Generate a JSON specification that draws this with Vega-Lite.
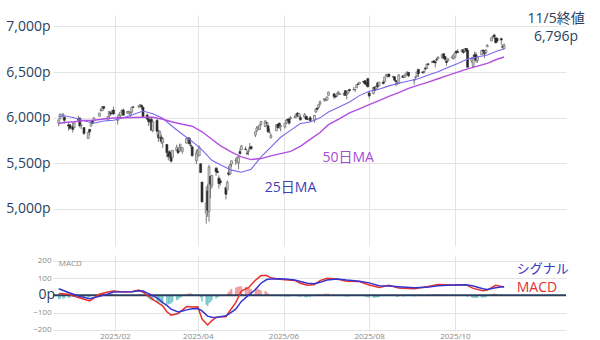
{
"$schema":"https://vega.github.io/schema/vega-lite/v6.json",
"padding":{"left":5,"top":12,"right":0,"bottom":0},
"background":"white",
"spacing":9,
"config":{"view":{"stroke":null},"font":"Open Sans","axis":{"gridColor":"#e4e4e4","title":null,"ticks":false,"domain":false}},
"datasets":{
"p":[
{"d":"2024-12-23","o":5940,"h":5978,"l":5903,"c":5974,"m":-22},
{"d":"2024-12-24","o":5984,"h":6040,"l":5983,"c":6040,"m":-20},
{"d":"2024-12-26","o":6024,"h":6049,"l":6007,"c":6037,"m":-18},
{"d":"2024-12-27","o":6006,"h":6006,"l":5932,"c":5970,"m":-17},
{"d":"2024-12-30","o":5920,"h":5941,"l":5858,"c":5907,"m":-14},
{"d":"2024-12-31","o":5920,"h":5929,"l":5869,"c":5882,"m":-12},
{"d":"2025-01-02","o":5903,"h":5951,"l":5835,"c":5869,"m":-9},
{"d":"2025-01-03","o":5892,"h":5950,"l":5885,"c":5942,"m":-6},
{"d":"2025-01-06","o":5983,"h":6021,"l":5961,"c":5975,"m":-8},
{"d":"2025-01-07","o":5993,"h":6001,"l":5891,"c":5909,"m":-10},
{"d":"2025-01-08","o":5910,"h":5928,"l":5874,"c":5918,"m":-11},
{"d":"2025-01-10","o":5890,"h":5890,"l":5809,"c":5827,"m":-12},
{"d":"2025-01-13","o":5770,"h":5841,"l":5773,"c":5836,"m":-12},
{"d":"2025-01-14","o":5871,"h":5871,"l":5805,"c":5843,"m":-10},
{"d":"2025-01-15","o":5905,"h":5960,"l":5905,"c":5950,"m":-4},
{"d":"2025-01-16","o":5961,"h":5964,"l":5935,"c":5937,"m":0},
{"d":"2025-01-17","o":5970,"h":6000,"l":5959,"c":5997,"m":4},
{"d":"2025-01-21","o":6015,"h":6052,"l":6014,"c":6049,"m":8},
{"d":"2025-01-22","o":6081,"h":6100,"l":6066,"c":6086,"m":12},
{"d":"2025-01-23","o":6075,"h":6119,"l":6071,"c":6119,"m":14},
{"d":"2025-01-24","o":6121,"h":6128,"l":6089,"c":6101,"m":13},
{"d":"2025-01-27","o":5970,"h":6018,"l":5962,"c":6012,"m":8},
{"d":"2025-01-28","o":6026,"h":6070,"l":5994,"c":6068,"m":8},
{"d":"2025-01-29","o":6057,"h":6062,"l":6017,"c":6039,"m":6},
{"d":"2025-01-30","o":6051,"h":6086,"l":6034,"c":6071,"m":6},
{"d":"2025-01-31","o":6082,"h":6120,"l":6030,"c":6041,"m":4},
{"d":"2025-02-03","o":5969,"h":6022,"l":5923,"c":5994,"m":0},
{"d":"2025-02-04","o":5998,"h":6042,"l":5990,"c":6037,"m":0},
{"d":"2025-02-05","o":6021,"h":6062,"l":6007,"c":6061,"m":1},
{"d":"2025-02-06","o":6073,"h":6084,"l":6060,"c":6083,"m":2},
{"d":"2025-02-07","o":6082,"h":6101,"l":6019,"c":6026,"m":0},
{"d":"2025-02-10","o":6048,"h":6074,"l":6046,"c":6066,"m":0},
{"d":"2025-02-11","o":6049,"h":6076,"l":6042,"c":6068,"m":1},
{"d":"2025-02-12","o":6026,"h":6063,"l":6003,"c":6052,"m":0},
{"d":"2025-02-13","o":6060,"h":6116,"l":6049,"c":6115,"m":2},
{"d":"2025-02-14","o":6115,"h":6127,"l":6107,"c":6114,"m":3},
{"d":"2025-02-18","o":6122,"h":6129,"l":6100,"c":6129,"m":4},
{"d":"2025-02-19","o":6118,"h":6147,"l":6112,"c":6144,"m":5},
{"d":"2025-02-20","o":6135,"h":6135,"l":6090,"c":6117,"m":3},
{"d":"2025-02-21","o":6114,"h":6114,"l":6009,"c":6013,"m":-4},
{"d":"2025-02-24","o":6027,"h":6044,"l":5978,"c":5983,"m":-10},
{"d":"2025-02-25","o":5983,"h":5993,"l":5908,"c":5955,"m":-18},
{"d":"2025-02-26","o":5971,"h":6010,"l":5933,"c":5956,"m":-22},
{"d":"2025-02-27","o":5981,"h":5993,"l":5858,"c":5861,"m":-30},
{"d":"2025-02-28","o":5856,"h":5959,"l":5837,"c":5955,"m":-30},
{"d":"2025-03-03","o":5969,"h":5986,"l":5810,"c":5850,"m":-36},
{"d":"2025-03-04","o":5812,"h":5866,"l":5733,"c":5779,"m":-42},
{"d":"2025-03-05","o":5782,"h":5861,"l":5762,"c":5843,"m":-40},
{"d":"2025-03-06","o":5785,"h":5812,"l":5711,"c":5739,"m":-46},
{"d":"2025-03-07","o":5726,"h":5783,"l":5667,"c":5770,"m":-46},
{"d":"2025-03-10","o":5705,"h":5706,"l":5565,"c":5615,"m":-52},
{"d":"2025-03-11","o":5604,"h":5636,"l":5529,"c":5572,"m":-52},
{"d":"2025-03-12","o":5624,"h":5642,"l":5547,"c":5599,"m":-49},
{"d":"2025-03-13","o":5595,"h":5597,"l":5505,"c":5522,"m":-47},
{"d":"2025-03-14","o":5564,"h":5645,"l":5564,"c":5639,"m":-38},
{"d":"2025-03-17","o":5635,"h":5703,"l":5632,"c":5675,"m":-28},
{"d":"2025-03-18","o":5654,"h":5654,"l":5598,"c":5615,"m":-24},
{"d":"2025-03-19","o":5633,"h":5715,"l":5622,"c":5675,"m":-16},
{"d":"2025-03-20","o":5646,"h":5711,"l":5632,"c":5663,"m":-11},
{"d":"2025-03-21","o":5630,"h":5670,"l":5603,"c":5668,"m":-6},
{"d":"2025-03-24","o":5718,"h":5775,"l":5718,"c":5768,"m":4},
{"d":"2025-03-25","o":5776,"h":5786,"l":5764,"c":5777,"m":9},
{"d":"2025-03-26","o":5772,"h":5784,"l":5703,"c":5712,"m":11},
{"d":"2025-03-27","o":5696,"h":5732,"l":5670,"c":5693,"m":12},
{"d":"2025-03-28","o":5679,"h":5685,"l":5572,"c":5581,"m":8},
{"d":"2025-03-31","o":5527,"h":5651,"l":5489,"c":5612,"m":6},
{"d":"2025-04-01","o":5597,"h":5651,"l":5562,"c":5633,"m":6},
{"d":"2025-04-02","o":5581,"h":5695,"l":5579,"c":5671,"m":5},
{"d":"2025-04-03","o":5492,"h":5500,"l":5391,"c":5397,"m":-12},
{"d":"2025-04-04","o":5292,"h":5292,"l":5069,"c":5074,"m":-36},
{"d":"2025-04-07","o":4953,"h":5247,"l":4835,"c":5062,"m":-54},
{"d":"2025-04-08","o":5193,"h":5267,"l":4910,"c":4982,"m":-62},
{"d":"2025-04-09","o":4967,"h":5481,"l":4857,"c":5457,"m":-46},
{"d":"2025-04-10","o":5353,"h":5353,"l":5115,"c":5268,"m":-38},
{"d":"2025-04-11","o":5255,"h":5370,"l":5220,"c":5363,"m":-28},
{"d":"2025-04-14","o":5442,"h":5460,"l":5359,"c":5406,"m":-18},
{"d":"2025-04-15","o":5411,"h":5450,"l":5386,"c":5397,"m":-11},
{"d":"2025-04-16","o":5335,"h":5367,"l":5221,"c":5276,"m":-7},
{"d":"2025-04-17","o":5306,"h":5328,"l":5255,"c":5283,"m":-3},
{"d":"2025-04-21","o":5233,"h":5233,"l":5101,"c":5158,"m":2},
{"d":"2025-04-22","o":5207,"h":5309,"l":5207,"c":5288,"m":10},
{"d":"2025-04-23","o":5395,"h":5469,"l":5356,"c":5376,"m":20},
{"d":"2025-04-24","o":5381,"h":5489,"l":5371,"c":5485,"m":30},
{"d":"2025-04-25","o":5489,"h":5528,"l":5456,"c":5525,"m":38},
{"d":"2025-04-28","o":5529,"h":5554,"l":5478,"c":5529,"m":44},
{"d":"2025-04-29","o":5508,"h":5571,"l":5505,"c":5561,"m":48},
{"d":"2025-04-30","o":5499,"h":5581,"l":5434,"c":5569,"m":50},
{"d":"2025-05-01","o":5626,"h":5659,"l":5597,"c":5604,"m":52},
{"d":"2025-05-02","o":5646,"h":5700,"l":5642,"c":5687,"m":52},
{"d":"2025-05-05","o":5655,"h":5684,"l":5640,"c":5650,"m":50},
{"d":"2025-05-06","o":5608,"h":5640,"l":5586,"c":5607,"m":46},
{"d":"2025-05-07","o":5621,"h":5655,"l":5584,"c":5631,"m":42},
{"d":"2025-05-08","o":5669,"h":5721,"l":5640,"c":5664,"m":40},
{"d":"2025-05-09","o":5680,"h":5690,"l":5643,"c":5660,"m":36},
{"d":"2025-05-12","o":5808,"h":5845,"l":5786,"c":5844,"m":40},
{"d":"2025-05-13","o":5854,"h":5907,"l":5842,"c":5886,"m":40},
{"d":"2025-05-14","o":5887,"h":5906,"l":5868,"c":5893,"m":36},
{"d":"2025-05-15","o":5870,"h":5924,"l":5865,"c":5917,"m":32},
{"d":"2025-05-16","o":5929,"h":5959,"l":5907,"c":5958,"m":30},
{"d":"2025-05-19","o":5902,"h":5969,"l":5895,"c":5964,"m":25},
{"d":"2025-05-20","o":5944,"h":5953,"l":5909,"c":5941,"m":20},
{"d":"2025-05-21","o":5910,"h":5938,"l":5830,"c":5845,"m":11},
{"d":"2025-05-22","o":5842,"h":5878,"l":5826,"c":5842,"m":5},
{"d":"2025-05-23","o":5781,"h":5829,"l":5767,"c":5802,"m":1},
{"d":"2025-05-27","o":5855,"h":5922,"l":5855,"c":5922,"m":2},
{"d":"2025-05-28","o":5925,"h":5930,"l":5884,"c":5889,"m":-2},
{"d":"2025-05-29","o":5939,"h":5944,"l":5876,"c":5912,"m":-4},
{"d":"2025-05-30","o":5903,"h":5923,"l":5849,"c":5912,"m":-6},
{"d":"2025-06-02","o":5897,"h":5937,"l":5879,"c":5936,"m":-7},
{"d":"2025-06-03","o":5939,"h":5981,"l":5929,"c":5970,"m":-6},
{"d":"2025-06-04","o":5979,"h":5990,"l":5967,"c":5971,"m":-6},
{"d":"2025-06-05","o":5985,"h":5999,"l":5921,"c":5939,"m":-7},
{"d":"2025-06-06","o":5988,"h":6017,"l":5978,"c":6000,"m":-5},
{"d":"2025-06-09","o":6004,"h":6022,"l":5993,"c":6006,"m":-4},
{"d":"2025-06-10","o":6010,"h":6043,"l":5994,"c":6038,"m":-4},
{"d":"2025-06-11","o":6049,"h":6060,"l":6003,"c":6022,"m":-6},
{"d":"2025-06-12","o":6010,"h":6046,"l":6005,"c":6045,"m":-6},
{"d":"2025-06-13","o":6000,"h":6026,"l":5964,"c":5977,"m":-9},
{"d":"2025-06-16","o":6005,"h":6050,"l":6005,"c":6033,"m":-9},
{"d":"2025-06-17","o":6013,"h":6023,"l":5975,"c":5983,"m":-11},
{"d":"2025-06-18","o":5987,"h":6018,"l":5971,"c":5981,"m":-11},
{"d":"2025-06-20","o":5999,"h":6019,"l":5953,"c":5967,"m":-10},
{"d":"2025-06-23","o":5970,"h":6025,"l":5943,"c":6025,"m":-6},
{"d":"2025-06-24","o":6061,"h":6101,"l":6051,"c":6092,"m":0},
{"d":"2025-06-25","o":6104,"h":6109,"l":6077,"c":6092,"m":3},
{"d":"2025-06-26","o":6112,"h":6146,"l":6107,"c":6141,"m":6},
{"d":"2025-06-27","o":6151,"h":6187,"l":6133,"c":6173,"m":8},
{"d":"2025-06-30","o":6193,"h":6215,"l":6175,"c":6205,"m":10},
{"d":"2025-07-01","o":6187,"h":6211,"l":6179,"c":6198,"m":9},
{"d":"2025-07-02","o":6191,"h":6227,"l":6186,"c":6227,"m":9},
{"d":"2025-07-03","o":6246,"h":6285,"l":6241,"c":6279,"m":10},
{"d":"2025-07-07","o":6261,"h":6262,"l":6202,"c":6230,"m":6},
{"d":"2025-07-08","o":6233,"h":6246,"l":6216,"c":6226,"m":3},
{"d":"2025-07-09","o":6238,"h":6269,"l":6226,"c":6263,"m":2},
{"d":"2025-07-10","o":6268,"h":6291,"l":6254,"c":6280,"m":2},
{"d":"2025-07-11","o":6255,"h":6269,"l":6249,"c":6259,"m":0},
{"d":"2025-07-14","o":6255,"h":6270,"l":6236,"c":6268,"m":-3},
{"d":"2025-07-15","o":6295,"h":6302,"l":6241,"c":6244,"m":-6},
{"d":"2025-07-16","o":6254,"h":6285,"l":6202,"c":6264,"m":-7},
{"d":"2025-07-17","o":6269,"h":6302,"l":6268,"c":6297,"m":-6},
{"d":"2025-07-18","o":6308,"h":6316,"l":6283,"c":6297,"m":-5},
{"d":"2025-07-21","o":6304,"h":6336,"l":6303,"c":6306,"m":-4},
{"d":"2025-07-22","o":6307,"h":6310,"l":6281,"c":6309,"m":-4},
{"d":"2025-07-23","o":6326,"h":6359,"l":6325,"c":6359,"m":-1},
{"d":"2025-07-24","o":6368,"h":6381,"l":6360,"c":6363,"m":0},
{"d":"2025-07-25","o":6370,"h":6389,"l":6368,"c":6389,"m":1},
{"d":"2025-07-28","o":6397,"h":6401,"l":6375,"c":6390,"m":-2},
{"d":"2025-07-29","o":6405,"h":6410,"l":6361,"c":6371,"m":-6},
{"d":"2025-07-30","o":6374,"h":6390,"l":6340,"c":6362,"m":-9},
{"d":"2025-07-31","o":6428,"h":6428,"l":6330,"c":6339,"m":-11},
{"d":"2025-08-01","o":6271,"h":6288,"l":6212,"c":6238,"m":-14},
{"d":"2025-08-04","o":6261,"h":6330,"l":6261,"c":6330,"m":-13},
{"d":"2025-08-05","o":6336,"h":6343,"l":6287,"c":6299,"m":-14},
{"d":"2025-08-06","o":6309,"h":6350,"l":6302,"c":6345,"m":-12},
{"d":"2025-08-07","o":6381,"h":6386,"l":6313,"c":6340,"m":-12},
{"d":"2025-08-08","o":6349,"h":6390,"l":6348,"c":6389,"m":-9},
{"d":"2025-08-11","o":6389,"h":6410,"l":6364,"c":6374,"m":-5},
{"d":"2025-08-12","o":6397,"h":6446,"l":6385,"c":6446,"m":0},
{"d":"2025-08-13","o":6464,"h":6481,"l":6451,"c":6466,"m":4},
{"d":"2025-08-14","o":6449,"h":6474,"l":6441,"c":6469,"m":5},
{"d":"2025-08-15","o":6478,"h":6481,"l":6441,"c":6450,"m":4},
{"d":"2025-08-18","o":6445,"h":6459,"l":6436,"c":6449,"m":2},
{"d":"2025-08-19","o":6447,"h":6456,"l":6400,"c":6411,"m":-2},
{"d":"2025-08-20","o":6406,"h":6407,"l":6343,"c":6396,"m":-6},
{"d":"2025-08-21","o":6381,"h":6393,"l":6360,"c":6370,"m":-9},
{"d":"2025-08-22","o":6375,"h":6479,"l":6370,"c":6467,"m":-6},
{"d":"2025-08-25","o":6457,"h":6466,"l":6438,"c":6439,"m":-6},
{"d":"2025-08-26","o":6441,"h":6468,"l":6435,"c":6465,"m":-5},
{"d":"2025-08-27","o":6457,"h":6485,"l":6452,"c":6481,"m":-4},
{"d":"2025-08-28","o":6489,"h":6502,"l":6465,"c":6502,"m":-3},
{"d":"2025-08-29","o":6495,"h":6496,"l":6444,"c":6460,"m":-4},
{"d":"2025-09-02","o":6409,"h":6420,"l":6360,"c":6416,"m":-6},
{"d":"2025-09-03","o":6441,"h":6451,"l":6413,"c":6448,"m":-5},
{"d":"2025-09-04","o":6456,"h":6502,"l":6445,"c":6502,"m":-2},
{"d":"2025-09-05","o":6530,"h":6533,"l":6444,"c":6482,"m":-1},
{"d":"2025-09-08","o":6498,"h":6512,"l":6481,"c":6495,"m":0},
{"d":"2025-09-09","o":6501,"h":6513,"l":6480,"c":6512,"m":1},
{"d":"2025-09-10","o":6544,"h":6555,"l":6519,"c":6532,"m":2},
{"d":"2025-09-11","o":6539,"h":6592,"l":6539,"c":6587,"m":4},
{"d":"2025-09-12","o":6588,"h":6600,"l":6577,"c":6584,"m":5},
{"d":"2025-09-15","o":6603,"h":6617,"l":6601,"c":6615,"m":6},
{"d":"2025-09-16","o":6623,"h":6627,"l":6600,"c":6606,"m":6},
{"d":"2025-09-17","o":6610,"h":6624,"l":6551,"c":6600,"m":5},
{"d":"2025-09-18","o":6637,"h":6657,"l":6617,"c":6632,"m":6},
{"d":"2025-09-19","o":6649,"h":6671,"l":6643,"c":6664,"m":7},
{"d":"2025-09-22","o":6653,"h":6694,"l":6650,"c":6693,"m":7},
{"d":"2025-09-23","o":6701,"h":6703,"l":6641,"c":6657,"m":5},
{"d":"2025-09-24","o":6670,"h":6675,"l":6623,"c":6638,"m":3},
{"d":"2025-09-25","o":6620,"h":6632,"l":6570,"c":6605,"m":0},
{"d":"2025-09-26","o":6622,"h":6653,"l":6615,"c":6644,"m":0},
{"d":"2025-09-29","o":6661,"h":6679,"l":6643,"c":6661,"m":1},
{"d":"2025-09-30","o":6646,"h":6690,"l":6638,"c":6688,"m":1},
{"d":"2025-10-01","o":6664,"h":6718,"l":6656,"c":6711,"m":2},
{"d":"2025-10-02","o":6731,"h":6731,"l":6693,"c":6715,"m":2},
{"d":"2025-10-03","o":6722,"h":6750,"l":6706,"c":6716,"m":1},
{"d":"2025-10-06","o":6725,"h":6749,"l":6724,"c":6740,"m":2},
{"d":"2025-10-07","o":6746,"h":6747,"l":6700,"c":6715,"m":1},
{"d":"2025-10-08","o":6729,"h":6755,"l":6716,"c":6754,"m":1},
{"d":"2025-10-09","o":6759,"h":6764,"l":6719,"c":6735,"m":0},
{"d":"2025-10-10","o":6740,"h":6762,"l":6551,"c":6553,"m":-10},
{"d":"2025-10-13","o":6620,"h":6665,"l":6600,"c":6655,"m":-12},
{"d":"2025-10-14","o":6562,"h":6686,"l":6551,"c":6644,"m":-14},
{"d":"2025-10-15","o":6690,"h":6723,"l":6628,"c":6671,"m":-14},
{"d":"2025-10-16","o":6689,"h":6720,"l":6603,"c":6630,"m":-15},
{"d":"2025-10-17","o":6625,"h":6668,"l":6600,"c":6664,"m":-15},
{"d":"2025-10-20","o":6690,"h":6744,"l":6688,"c":6735,"m":-13},
{"d":"2025-10-21","o":6737,"h":6752,"l":6723,"c":6736,"m":-12},
{"d":"2025-10-22","o":6737,"h":6743,"l":6653,"c":6699,"m":-12},
{"d":"2025-10-23","o":6711,"h":6748,"l":6704,"c":6738,"m":-9},
{"d":"2025-10-24","o":6776,"h":6807,"l":6775,"c":6792,"m":-4},
{"d":"2025-10-27","o":6841,"h":6876,"l":6839,"c":6875,"m":3},
{"d":"2025-10-28","o":6885,"h":6898,"l":6866,"c":6891,"m":8},
{"d":"2025-10-29","o":6906,"h":6920,"l":6868,"c":6890,"m":11},
{"d":"2025-10-30","o":6876,"h":6876,"l":6815,"c":6822,"m":9},
{"d":"2025-10-31","o":6871,"h":6871,"l":6821,"c":6840,"m":7},
{"d":"2025-11-03","o":6866,"h":6878,"l":6798,"c":6852,"m":6},
{"d":"2025-11-04","o":6782,"h":6804,"l":6761,"c":6771,"m":0},
{"d":"2025-11-05","o":6755,"h":6814,"l":6753,"c":6796,"m":-3}
],
"ma":[
{"d":"2024-12-23","a25":6010,"a50":5935},
{"d":"2024-12-27","a25":6020,"a50":5946},
{"d":"2025-01-03","a25":5998,"a50":5954},
{"d":"2025-01-10","a25":5965,"a50":5967},
{"d":"2025-01-17","a25":5937,"a50":5971},
{"d":"2025-01-24","a25":5963,"a50":5984},
{"d":"2025-01-31","a25":5971,"a50":5995},
{"d":"2025-02-07","a25":5999,"a50":5998},
{"d":"2025-02-14","a25":6034,"a50":6000},
{"d":"2025-02-21","a25":6072,"a50":6004},
{"d":"2025-02-28","a25":6042,"a50":6003},
{"d":"2025-03-07","a25":5992,"a50":5982},
{"d":"2025-03-14","a25":5902,"a50":5951},
{"d":"2025-03-21","a25":5817,"a50":5926},
{"d":"2025-03-28","a25":5738,"a50":5905},
{"d":"2025-04-04","a25":5645,"a50":5844},
{"d":"2025-04-11","a25":5531,"a50":5762},
{"d":"2025-04-17","a25":5482,"a50":5692},
{"d":"2025-04-25","a25":5423,"a50":5620},
{"d":"2025-05-02","a25":5400,"a50":5569},
{"d":"2025-05-09","a25":5433,"a50":5539},
{"d":"2025-05-16","a25":5568,"a50":5550},
{"d":"2025-05-23","a25":5675,"a50":5579},
{"d":"2025-05-30","a25":5784,"a50":5604},
{"d":"2025-06-06","a25":5859,"a50":5629},
{"d":"2025-06-13","a25":5934,"a50":5683},
{"d":"2025-06-20","a25":5952,"a50":5760},
{"d":"2025-06-27","a25":5997,"a50":5836},
{"d":"2025-07-03","a25":6061,"a50":5922},
{"d":"2025-07-11","a25":6119,"a50":5989},
{"d":"2025-07-18","a25":6170,"a50":6052},
{"d":"2025-07-25","a25":6241,"a50":6096},
{"d":"2025-08-01","a25":6288,"a50":6142},
{"d":"2025-08-08","a25":6310,"a50":6186},
{"d":"2025-08-15","a25":6348,"a50":6233},
{"d":"2025-08-22","a25":6377,"a50":6274},
{"d":"2025-08-29","a25":6402,"a50":6321},
{"d":"2025-09-05","a25":6426,"a50":6357},
{"d":"2025-09-12","a25":6467,"a50":6389},
{"d":"2025-09-19","a25":6503,"a50":6426},
{"d":"2025-09-26","a25":6549,"a50":6463},
{"d":"2025-10-03","a25":6594,"a50":6498},
{"d":"2025-10-10","a25":6642,"a50":6534},
{"d":"2025-10-17","a25":6664,"a50":6565},
{"d":"2025-10-24","a25":6687,"a50":6595},
{"d":"2025-10-31","a25":6731,"a50":6640},
{"d":"2025-11-05","a25":6752,"a50":6665}
],
"md":[
{"d":"2024-12-23","a":10,"s":38},
{"d":"2024-12-30","a":6,"s":16},
{"d":"2025-01-06","a":-13,"s":-4},
{"d":"2025-01-14","a":-32,"s":-19},
{"d":"2025-01-21","a":6,"s":-6},
{"d":"2025-01-27","a":19,"s":8},
{"d":"2025-01-31","a":25,"s":19},
{"d":"2025-02-07","a":20,"s":20},
{"d":"2025-02-13","a":21,"s":21},
{"d":"2025-02-18","a":30,"s":27},
{"d":"2025-02-21","a":18,"s":25},
{"d":"2025-02-25","a":-5,"s":10},
{"d":"2025-02-28","a":-23,"s":-2},
{"d":"2025-03-04","a":-45,"s":-20},
{"d":"2025-03-07","a":-61,"s":-42},
{"d":"2025-03-10","a":-95,"s":-58},
{"d":"2025-03-13","a":-114,"s":-80},
{"d":"2025-03-18","a":-105,"s":-96},
{"d":"2025-03-21","a":-85,"s":-90},
{"d":"2025-03-24","a":-65,"s":-84},
{"d":"2025-03-28","a":-68,"s":-78},
{"d":"2025-04-01","a":-66,"s":-76},
{"d":"2025-04-04","a":-137,"s":-90},
{"d":"2025-04-08","a":-171,"s":-120},
{"d":"2025-04-11","a":-146,"s":-127},
{"d":"2025-04-14","a":-128,"s":-128},
{"d":"2025-04-17","a":-123,"s":-124},
{"d":"2025-04-21","a":-123,"s":-118},
{"d":"2025-04-23","a":-99,"s":-108},
{"d":"2025-04-28","a":-42,"s":-80},
{"d":"2025-05-02","a":25,"s":-35},
{"d":"2025-05-07","a":44,"s":0},
{"d":"2025-05-12","a":87,"s":34},
{"d":"2025-05-16","a":114,"s":70},
{"d":"2025-05-20","a":114,"s":91},
{"d":"2025-05-23","a":101,"s":95},
{"d":"2025-05-28","a":95,"s":96},
{"d":"2025-06-02","a":90,"s":94},
{"d":"2025-06-09","a":86,"s":88},
{"d":"2025-06-13","a":70,"s":80},
{"d":"2025-06-18","a":58,"s":70},
{"d":"2025-06-23","a":62,"s":67},
{"d":"2025-06-27","a":85,"s":75},
{"d":"2025-07-02","a":98,"s":88},
{"d":"2025-07-09","a":94,"s":94},
{"d":"2025-07-16","a":82,"s":88},
{"d":"2025-07-25","a":80,"s":82},
{"d":"2025-08-01","a":60,"s":72},
{"d":"2025-08-08","a":45,"s":56},
{"d":"2025-08-15","a":58,"s":54},
{"d":"2025-08-22","a":42,"s":50},
{"d":"2025-09-02","a":38,"s":44},
{"d":"2025-09-11","a":50,"s":46},
{"d":"2025-09-19","a":62,"s":55},
{"d":"2025-09-30","a":60,"s":60},
{"d":"2025-10-09","a":60,"s":61},
{"d":"2025-10-14","a":40,"s":54},
{"d":"2025-10-21","a":26,"s":38},
{"d":"2025-10-24","a":30,"s":34},
{"d":"2025-10-30","a":58,"s":44},
{"d":"2025-11-04","a":50,"s":50},
{"d":"2025-11-05","a":46,"s":50}
]
},
"vconcat":[
{
"width":513,"height":231,
"layer":[
{"data":{"name":"p"},"mark":{"type":"rule","color":"#555555","strokeWidth":0.8},
 "encoding":{
  "x":{"field":"d","type":"temporal","scale":{"type":"utc","domain":[{"year":2024,"month":12,"date":22,"hours":12,"utc":true},{"year":2025,"month":12,"date":15,"hours":12,"utc":true}]},
   "axis":{"values":[{"year":2025,"month":2,"date":1,"utc":true},{"year":2025,"month":4,"date":1,"utc":true},{"year":2025,"month":6,"date":1,"utc":true},{"year":2025,"month":8,"date":1,"utc":true},{"year":2025,"month":10,"date":1,"utc":true}],"labels":false,"grid":true}},
  "y":{"field":"l","type":"quantitative","scale":{"domain":[4590,7126],"nice":false,"zero":false},
   "axis":{"values":[5000,5500,6000,6500,7000],"labelExpr":"format(datum.value, ',') + 'p'","labelFont":"Open Sans","labelFontSize":14,"labelColor":"#2a3f5f","labelPadding":3,"grid":true}},
  "y2":{"field":"h"}}},
{"data":{"name":"p"},"mark":{"type":"bar","width":2,"strokeWidth":0.6},
 "encoding":{
  "x":{"field":"d","type":"temporal"},
  "y":{"field":"o","type":"quantitative"},
  "y2":{"field":"c"},
  "color":{"condition":{"test":"datum.c >= datum.o","value":"#d0d0d0"},"value":"#2b2b2b"},
  "stroke":{"condition":{"test":"datum.c >= datum.o","value":"#606060"},"value":"#2b2b2b"}}},
{"data":{"name":"ma"},"mark":{"type":"line","color":"#7468ee","strokeWidth":1.1},
 "encoding":{"x":{"field":"d","type":"temporal"},"y":{"field":"a25","type":"quantitative"}}},
{"data":{"name":"ma"},"mark":{"type":"line","color":"#b24fe0","strokeWidth":1.4},
 "encoding":{"x":{"field":"d","type":"temporal"},"y":{"field":"a50","type":"quantitative"}}},
{"data":{"values":[{"d":"2025-07-17","v":5557,"t":"50日MA"}]},
 "mark":{"type":"text","font":"Open Sans, Noto Sans CJK JP","fontSize":14,"color":"#a54bd6","align":"center","baseline":"middle"},
 "encoding":{"x":{"field":"d","type":"temporal"},"y":{"field":"v","type":"quantitative"},"text":{"field":"t"}}},
{"data":{"values":[{"d":"2025-06-06","v":5227,"t":"25日MA"}]},
 "mark":{"type":"text","font":"Open Sans, Noto Sans CJK JP","fontSize":14,"color":"#3f3fb8","align":"center","baseline":"middle"},
 "encoding":{"x":{"field":"d","type":"temporal"},"y":{"field":"v","type":"quantitative"},"text":{"field":"t"}}},
{"data":{"values":[{"d":"2025-12-12","v":7078,"t":"11/5終値"},{"d":"2025-12-12","v":6880,"t":"6,796p"}]},
 "mark":{"type":"text","font":"Open Sans, Noto Sans CJK JP","fontSize":14,"color":"#2a3f5f","align":"center","baseline":"middle"},
 "encoding":{"x":{"field":"d","type":"temporal"},"y":{"field":"v","type":"quantitative"},"text":{"field":"t"}}}
]
},
{
"width":513,"height":76,
"layer":[
{"data":{"name":"p"},"mark":{"type":"bar","width":1.6},
 "encoding":{
  "x":{"field":"d","type":"temporal","scale":{"type":"utc","domain":[{"year":2024,"month":12,"date":22,"hours":12,"utc":true},{"year":2025,"month":12,"date":15,"hours":12,"utc":true}]},
   "axis":{"values":[{"year":2025,"month":2,"date":1,"utc":true},{"year":2025,"month":4,"date":1,"utc":true},{"year":2025,"month":6,"date":1,"utc":true},{"year":2025,"month":8,"date":1,"utc":true},{"year":2025,"month":10,"date":1,"utc":true}],"format":"%Y/%m","labelAlign":"center","labelFontSize":8,"labelColor":"#8a8a8a","labelPadding":1,"grid":true}},
  "y":{"field":"m","type":"quantitative","scale":{"domain":[-206,233],"nice":false,"zero":false},
   "axis":{"values":[-200,-100,0,100,200],"tickCount":5,"labelOverlap":false,"labelExpr":"datum.value === 0 ? '' : datum.label","labelFontSize":8,"labelColor":"#8a8a8a","labelPadding":2,"grid":true}},
  "color":{"condition":{"test":"datum.m >= 0","value":"#f2999b"},"value":"#7cc8c8"}}},
{"data":{"values":[{}]},"mark":{"type":"rule","color":"#2a3f5f","strokeWidth":2},"encoding":{"y":{"datum":0}}},
{"data":{"name":"md"},"mark":{"type":"line","color":"#e8302a","strokeWidth":1.5},
 "encoding":{"x":{"field":"d","type":"temporal"},"y":{"field":"a","type":"quantitative"}}},
{"data":{"name":"md"},"mark":{"type":"line","color":"#3434d0","strokeWidth":1.5},
 "encoding":{"x":{"field":"d","type":"temporal"},"y":{"field":"s","type":"quantitative"}}},
{"data":{"values":[{"d":"2024-12-22T12:00:00Z","v":0,"t":"0p"}]},
 "mark":{"type":"text","fontSize":14,"color":"#2a3f5f","align":"right","baseline":"middle","dx":-3},
 "encoding":{"x":{"field":"d","type":"temporal"},"y":{"field":"v","type":"quantitative"},"text":{"field":"t"}}},
{"data":{"values":[{"d":"2024-12-23","v":181,"t":"MACD"}]},
 "mark":{"type":"text","fontSize":8,"color":"#8a8a8a","align":"left","baseline":"middle"},
 "encoding":{"x":{"field":"d","type":"temporal"},"y":{"field":"v","type":"quantitative"},"text":{"field":"t"}}},
{"data":{"values":[{"d":"2025-11-14","v":150,"t":"シグナル"}]},
 "mark":{"type":"text","font":"Noto Sans CJK JP","fontSize":13,"color":"#3434c8","align":"left","baseline":"middle"},
 "encoding":{"x":{"field":"d","type":"temporal"},"y":{"field":"v","type":"quantitative"},"text":{"field":"t"}}},
{"data":{"values":[{"d":"2025-11-14","v":42,"t":"MACD"}]},
 "mark":{"type":"text","fontSize":14,"color":"#e03030","align":"left","baseline":"middle"},
 "encoding":{"x":{"field":"d","type":"temporal"},"y":{"field":"v","type":"quantitative"},"text":{"field":"t"}}}
]
}
]
}
